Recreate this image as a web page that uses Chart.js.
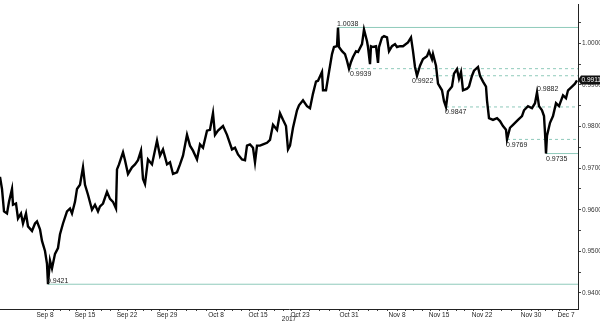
<!DOCTYPE html>
<html>
<head>
<meta charset="utf-8">
<script src="https://cdn.jsdelivr.net/npm/chart.js@4.4.0/dist/chart.umd.min.js"></script>
<style>
  html, body { margin: 0; padding: 0; background: #fff; }
  #wrap { width: 600px; height: 323px; }
</style>
</head>
<body>
<div id="wrap"><canvas id="priceChart" width="600" height="323"></canvas></div>
<script>
// x = 3-hour bar index from the start of the window, y = price
const barIndex = [
    0, 2, 4, 7, 9, 12, 13, 16, 18, 21, 23, 26, 28, 32, 35, 37, 40, 42, 45, 47,
    48, 50, 52, 55, 58, 60, 63, 67, 70, 72, 75, 77, 80, 83, 85, 88, 92, 95, 98, 100,
    103, 107, 110, 113, 116, 117, 119, 123, 125, 128, 132, 135, 138, 141, 143, 145, 148, 152, 157, 160,
    163, 167, 170, 173, 177, 180, 183, 187, 190, 193, 197, 200, 203, 207, 210, 213, 215, 218, 223, 227,
    232, 235, 238, 242, 245, 247, 250, 253, 255, 257, 260, 263, 267, 270, 273, 277, 280, 283, 286, 288,
    290, 293, 297, 299, 303, 307, 310, 313, 316, 318, 322, 323, 326, 329, 332, 334, 337, 338, 339, 342,
    345, 347, 349, 351, 353, 356, 358, 362, 364, 367, 368, 370, 371, 373, 376, 378, 379, 382, 384, 387,
    389, 392, 395, 397, 400, 403, 408, 411, 413, 415, 417, 420, 423, 427, 429, 432, 433, 436, 438, 442,
    444, 446, 448, 452, 454, 457, 459, 461, 463, 467, 469, 472, 474, 478, 480, 483, 486, 487, 489, 493,
    497, 500, 503, 506, 507, 510, 513, 518, 522, 524, 528, 532, 535, 537, 539, 542, 544, 545, 546, 547,
    550, 553, 556, 559, 563, 566, 568, 572, 575, 577
];
const closes = [
    0.9679, 0.9650, 0.9596, 0.9591, 0.9619, 0.9650, 0.9612, 0.9615, 0.9579, 0.9591, 0.9567, 0.9591, 0.9560, 0.9549, 0.9567, 0.9572, 0.9553, 0.9525, 0.9501, 0.9470,
    0.9421, 0.9478, 0.9459, 0.9494, 0.9508, 0.9541, 0.9567, 0.9596, 0.9603, 0.9591, 0.9619, 0.9650, 0.9660, 0.9702, 0.9660, 0.9636, 0.9600, 0.9612, 0.9596, 0.9608,
    0.9615, 0.9643, 0.9626, 0.9619, 0.9603, 0.9697, 0.9709, 0.9738, 0.9719, 0.9686, 0.9702, 0.9709, 0.9719, 0.9742, 0.9674, 0.9662, 0.9721, 0.9709, 0.9766, 0.9730,
    0.9745, 0.9709, 0.9714, 0.9686, 0.9690, 0.9709, 0.9730, 0.9780, 0.9754, 0.9742, 0.9721, 0.9757, 0.9749, 0.9790, 0.9792, 0.9832, 0.9780, 0.9790, 0.9801, 0.9780,
    0.9745, 0.9749, 0.9733, 0.9721, 0.9719, 0.9754, 0.9757, 0.9749, 0.9714, 0.9754, 0.9754, 0.9757, 0.9761, 0.9768, 0.9804, 0.9792, 0.9832, 0.9816, 0.9801, 0.9745,
    0.9754, 0.9797, 0.9839, 0.9851, 0.9863, 0.9849, 0.9844, 0.9879, 0.9908, 0.9910, 0.9931, 0.9887, 0.9887, 0.9931, 0.9974, 0.9991, 0.9993, 1.0038, 0.9991, 0.9981,
    0.9974, 0.9958, 0.9939, 0.9955, 0.9967, 0.9981, 0.9979, 0.9998, 1.0033, 1.0005, 0.9991, 0.9950, 0.9993, 0.9991, 0.9993, 0.9953, 0.9991, 1.0014, 1.0017, 1.0014,
    0.9981, 0.9993, 0.9998, 0.9991, 0.9993, 0.9993, 1.0002, 1.0014, 0.9981, 0.9943, 0.9922, 0.9946, 0.9962, 0.9969, 0.9981, 0.9962, 0.9974, 0.9946, 0.9903, 0.9887,
    0.9861, 0.9847, 0.9884, 0.9896, 0.9927, 0.9938, 0.9915, 0.9931, 0.9887, 0.9891, 0.9896, 0.9922, 0.9934, 0.9943, 0.9922, 0.9908, 0.9896, 0.9863, 0.9820, 0.9816,
    0.9820, 0.9813, 0.9801, 0.9792, 0.9769, 0.9797, 0.9804, 0.9816, 0.9825, 0.9839, 0.9849, 0.9844, 0.9856, 0.9882, 0.9849, 0.9839, 0.9825, 0.9785, 0.9735, 0.9778,
    0.9809, 0.9825, 0.9856, 0.9849, 0.9875, 0.9868, 0.9887, 0.9896, 0.9903, 0.9911
];

// marked highs / lows
const levelValues = [1.0038, 0.9939, 0.9922, 0.9847, 0.9769, 0.9735, 0.9421, 0.9882];
const levelLineFrom = [338, 349, 433, 446, 507, 546, 48, null];
const levelLabelAt = [337, 350, 412, 445, 506, 546, 47, 537];
const levelStyle = ['solid', 'dashed', 'dashed', 'dashed', 'dashed', 'solid', 'solid', 'none'];
const levelSide = ['above', 'below', 'below', 'below', 'below', 'below', 'above', 'above'];

// axis
const xTickPos = [45, 85, 127, 167, 216, 258, 300, 349, 397, 439, 482, 531, 566];
const xTickLabels = ['Sep 8', 'Sep 15', 'Sep 22', 'Sep 29', 'Oct 8', 'Oct 15', 'Oct 23', 'Oct 31',
    'Nov 8', 'Nov 15', 'Nov 22', 'Nov 30', 'Dec 7'];
const xMax = 578;
const yMin = 0.93615;
const yMax = 1.00922;
const yTicks = [0.940, 0.945, 0.950, 0.955, 0.960, 0.965, 0.970, 0.975, 0.980, 0.985, 0.990, 0.995, 1.000, 1.005];

const FONT = 'Liberation Sans';
const LEVEL_COLOR = '#8fcabb';

const priceData = barIndex.map((x, i) => ({ x: x, y: closes[i] }));

const levelSets = [];
levelValues.forEach((v, i) => {
    if (levelStyle[i] === 'none') return;
    levelSets.push({
        data: [{ x: levelLineFrom[i], y: v }, { x: xMax, y: v }],
        borderColor: LEVEL_COLOR,
        borderWidth: 1,
        borderDash: levelStyle[i] === 'dashed' ? [3, 3] : [],
        pointRadius: 0,
        order: 2
    });
});

// labels next to highs/lows and the last-price box
const annotations = {
    id: 'annotations',
    afterDatasetsDraw(chart) {
        const ctx = chart.ctx;
        const xs = chart.scales.x;
        const ys = chart.scales.y;
        ctx.save();
        ctx.font = '7px "' + FONT + '"';
        ctx.fillStyle = '#222';
        ctx.textAlign = 'left';
        levelValues.forEach((v, i) => {
            const px = xs.getPixelForValue(levelLabelAt[i]);
            const py = ys.getPixelForValue(v);
            if (levelSide[i] === 'above') {
                ctx.textBaseline = 'bottom';
                ctx.fillText(v.toFixed(4), px, py);
            } else {
                ctx.textBaseline = 'top';
                ctx.fillText(v.toFixed(4), px, py + 2);
            }
        });

        const last = closes[closes.length - 1];
        const ly = Math.round(ys.getPixelForValue(last));
        const bx = chart.chartArea.right + 3;
        ctx.fillStyle = '#111';
        ctx.beginPath();
        ctx.moveTo(chart.chartArea.right, ly);
        ctx.lineTo(bx, ly - 4.5);
        ctx.lineTo(600, ly - 4.5);
        ctx.lineTo(600, ly + 4.5);
        ctx.lineTo(bx, ly + 4.5);
        ctx.closePath();
        ctx.fill();
        ctx.fillStyle = '#fff';
        ctx.font = '6.5px "' + FONT + '"';
        ctx.textBaseline = 'middle';
        ctx.fillText(last.toFixed(4), bx + 0.5, ly + 0.5);
        ctx.restore();
    }
};

new Chart(document.getElementById('priceChart'), {
    type: 'line',
    data: {
        datasets: [{
            data: priceData,
            borderColor: '#000',
            borderWidth: 2.4,
            pointRadius: 0,
            tension: 0,
            order: 1
        }].concat(levelSets)
    },
    options: {
        responsive: false,
        animation: false,
        devicePixelRatio: 1,
        layout: { padding: 0 },
        plugins: {
            legend: { display: false },
            tooltip: { enabled: false }
        },
        scales: {
            x: {
                type: 'linear',
                min: 0,
                max: xMax,
                afterBuildTicks(scale) {
                    const ticks = [];
                    xTickPos.forEach((p, i) => {
                        ticks.push({ value: p });
                        if (i < xTickPos.length - 1) {
                            const step = (xTickPos[i + 1] - p) / 5;
                            for (let k = 1; k < 5; k++) ticks.push({ value: p + step * k });
                        }
                    });
                    scale.ticks = ticks;
                },
                afterFit(scale) { scale.height = 14; },
                ticks: {
                    autoSkip: false,
                    maxRotation: 0,
                    padding: 0,
                    color: '#222',
                    font: { family: FONT, size: 6.5 },
                    callback: (v) => {
                        const i = xTickPos.indexOf(v);
                        return i >= 0 ? xTickLabels[i] : '';
                    }
                },
                grid: { drawOnChartArea: false, tickLength: 2, color: '#444' },
                border: { color: '#222' },
                title: {
                    display: true,
                    text: '2017',
                    color: '#222',
                    padding: 0,
                    font: { family: FONT, size: 6.5 }
                }
            },
            y: {
                position: 'right',
                min: yMin,
                max: yMax,
                afterBuildTicks(scale) {
                    scale.ticks = yTicks.map(v => ({ value: v }));
                },
                afterFit(scale) { scale.width = 22; },
                ticks: {
                    padding: 1,
                    color: '#333',
                    font: { family: FONT, size: 6.5 },
                    callback: (v) => (Math.round(v * 1000) % 10 === 0 ? v.toFixed(4) : '')
                },
                grid: { drawOnChartArea: false, tickLength: 3, color: '#444' },
                border: { color: '#222' }
            }
        }
    },
    plugins: [annotations]
});
</script>
</body>
</html>
